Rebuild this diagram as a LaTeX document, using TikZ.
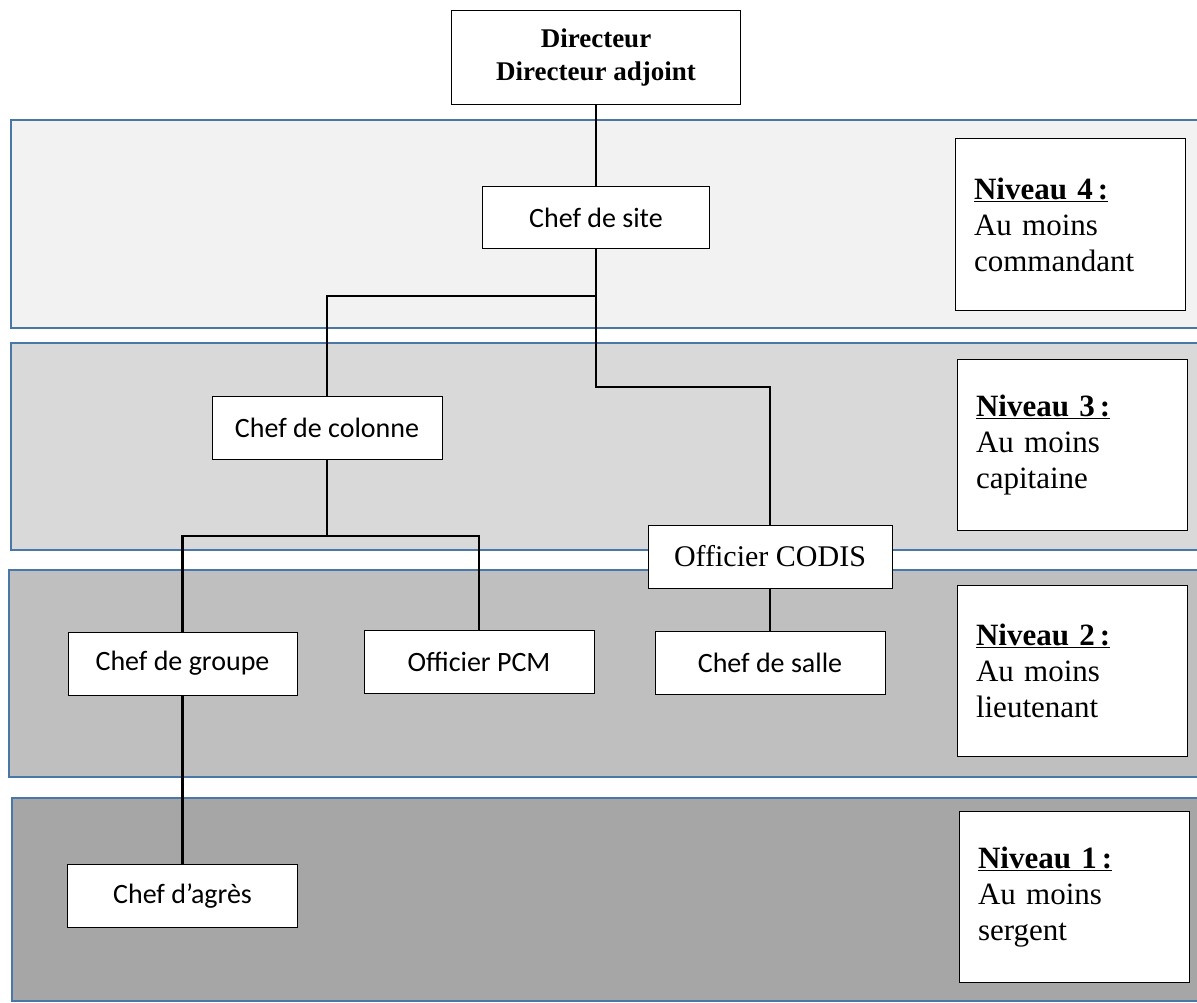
\documentclass[tikz,border=0pt]{standalone}
\usepackage{fontspec}
\setmainfont{Liberation Serif}
\newfontfamily\calibri{Carlito}
\usepackage{tikz}
\definecolor{bandblue}{RGB}{74,118,168}
\definecolor{grayA}{RGB}{242,242,242}
\definecolor{grayB}{RGB}{217,217,217}
\definecolor{grayC}{RGB}{191,191,191}
\definecolor{grayD}{RGB}{166,166,166}
\tikzstyle{band} = [draw=bandblue, line width=2pt]
\tikzstyle{post} = [draw, fill=white, line width=1pt, inner sep=0pt, minimum width=229pt, minimum height=63pt, font=\calibri\fontsize{28}{34}\selectfont]
\tikzstyle{niveau} = [draw, fill=white, line width=1pt, text width=192pt, inner xsep=19pt, minimum height=171pt, align=left, font=\fontsize{31}{36}\selectfont]
\tikzstyle{link} = [line width=2.2pt]

\begin{document}
\begin{tikzpicture}[x=1pt, y=-1pt]
\useasboundingbox (0,0) rectangle (1197,1003);

% Bands for the four levels
\draw[band, fill=grayA] (11,120) rectangle (1215,328);
\draw[band, fill=grayB] (11,343) rectangle (1215,550);
\draw[band, fill=grayC] (9,570) rectangle (1215,777);
\draw[band, fill=grayD] (12,798) rectangle (1215,1001);

% Level boxes on the right
\node[niveau] (niv4) at (1070,224.5) {\underline{\textbf{Niveau 4\,:}}\\Au moins\\commandant};
\node[niveau] (niv3) at (1072,445) {\underline{\textbf{Niveau 3\,:}}\\Au moins\\capitaine};
\node[niveau] (niv2) at (1072,670.5) {\underline{\textbf{Niveau 2\,:}}\\Au moins\\lieutenant};
\node[niveau] (niv1) at (1074,897) {\underline{\textbf{Niveau 1\,:}}\\Au moins\\sergent};

% Chain of command
\node[post, minimum width=289pt, minimum height=94pt, align=center,
  font=\bfseries\fontsize{27}{33}\selectfont] (dir) at (596,58) {Directeur\\Directeur adjoint};
\node[post, minimum width=227pt, minimum height=62pt] (site) at (596,218) {Chef de site};
\node[post, minimum width=230pt] (colonne) at (327,427.5) {Chef de colonne};
\node[post, minimum width=244pt, font=\fontsize{30}{36}\selectfont] (codis) at (770,556.5) {Officier CODIS};
\node[post] (groupe) at (182.5,663.5) {Chef de groupe};
\node[post, minimum width=230pt] (pcm) at (479,661.5) {Officier PCM};
\node[post, minimum width=230pt] (salle) at (770,663) {Chef de salle};
\node[post, minimum width=230pt] (agres) at (182.5,896) {Chef d’agrès};

% Connectors
\coordinate (forkA) at (596,296);
\coordinate (forkB) at (596,387);
\coordinate (forkC) at (327,536);

\draw[link] (dir.south) -- (site.north);
\draw[link] (site.south) -- (forkA) -| (colonne.north);
\draw[link] (site.south) -- (forkB) -| (codis.north);
\draw[link] (colonne.south) -- (forkC) -| (groupe.north);
\draw[link] (forkC) -| (pcm.north);
\draw[link] (codis.south) -- (salle.north);
\draw[link] (groupe.south) -- (agres.north);
\end{tikzpicture}
\end{document}
